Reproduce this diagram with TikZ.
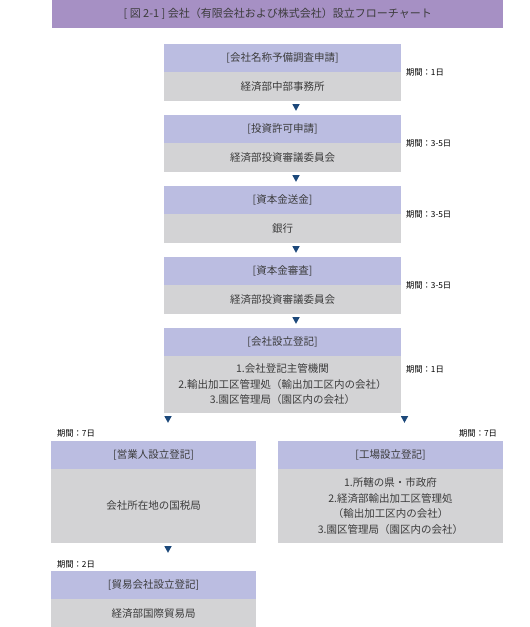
\documentclass[tikz,border=0pt]{standalone}
\usepackage{fontspec}
\setmainfont{Noto Sans CJK JP}
\usetikzlibrary{positioning}

\definecolor{titelpaars}{RGB}{166,144,196}
\definecolor{kopblauw}{RGB}{187,189,225}
\definecolor{romp}{RGB}{211,211,213}
\definecolor{pijlblauw}{RGB}{28,72,122}
\definecolor{tekst}{RGB}{60,60,60}

\tikzset{
    kop/.style={fill=kopblauw, inner sep=0pt, outer sep=0pt, text=tekst, minimum height=28pt,
        font=\fontsize{10.5}{12}\selectfont},
    romp/.style={fill=romp, inner sep=0pt, outer sep=0pt, text=tekst, align=center,
        font=\fontsize{10.5}{15.5}\selectfont},
    duur/.style={inner sep=0pt, outer sep=0pt, text=black, font=\fontsize{8.3}{10}\selectfont},
    pijl/.pic={\fill[pijlblauw] (-3.75,0) -- (3.75,0) -- (0,6.8) -- cycle;}
}

\begin{document}
\begin{tikzpicture}[x=1pt, y=-1pt]
    \useasboundingbox (0,0) rectangle (530,627);

    % Titelbalk
    \node[fill=titelpaars, text=tekst, minimum width=451pt, minimum height=28pt,
        inner sep=0pt, anchor=north west, font=\fontsize{11}{12}\selectfont]
        (titel) at (52,0) {[ 図 2-1 ] 会社（有限会社および株式会社）設立フローチャート};

    % Hoofdkolom van de stappen
    \node[kop, minimum width=237pt, anchor=north west] (k1) at (164,44) {[会社名称予備調査申請]};
    \node[romp, minimum width=237pt, minimum height=29pt, below=0pt of k1] (r1) {経済部中部事務所};

    \node[kop, minimum width=237pt, below=14pt of r1] (k2) {[投資許可申請]};
    \node[romp, minimum width=237pt, minimum height=29pt, below=0pt of k2] (r2) {経済部投資審議委員会};

    \node[kop, minimum width=237pt, below=14pt of r2] (k3) {[資本金送金]};
    \node[romp, minimum width=237pt, minimum height=29pt, below=0pt of k3] (r3) {銀行};

    \node[kop, minimum width=237pt, below=14pt of r3] (k4) {[資本金審査]};
    \node[romp, minimum width=237pt, minimum height=29pt, below=0pt of k4] (r4) {経済部投資審議委員会};

    \node[kop, minimum width=237pt, below=14pt of r4] (k5) {[会社設立登記]};
    \node[romp, minimum width=237pt, minimum height=57pt, below=0pt of k5] (r5)
        {1.会社登記主管機関\\2.輸出加工区管理処（輸出加工区内の会社）\\3.園区管理局（園区内の会社）};

    % Twee takken onderaan
    \node[kop, minimum width=205pt, anchor=north west] (k6) at (51,441) {[営業人設立登記]};
    \node[romp, minimum width=205pt, minimum height=74pt, below=0pt of k6] (r6) {会社所在地の国税局};

    \node[kop, minimum width=225pt, anchor=north west] (k7) at (278,441) {[工場設立登記]};
    \node[romp, minimum width=225pt, minimum height=74pt, below=0pt of k7] (r7)
        {1.所轄の県・市政府\\2.経済部輸出加工区管理処\\（輸出加工区内の会社）\\3.園区管理局（園区内の会社）};

    \node[kop, minimum width=205pt, below=28pt of r6] (k8) {[貿易会社設立登記]};
    \node[romp, minimum width=205pt, minimum height=29pt, below=0pt of k8] (r8) {経済部国際貿易局};

    % Duur van elke stap
    \node[duur, right=5pt of r1.north east] (d1) {期間：1日};
    \node[duur, right=5pt of r2.north east] (d2) {期間：3-5日};
    \node[duur, right=5pt of r3.north east] (d3) {期間：3-5日};
    \node[duur, right=5pt of r4.north east] (d4) {期間：3-5日};
    \node[duur, right=5pt of r5.north east, yshift=-13pt] (d5) {期間：1日};
    \node[duur, anchor=west] (d6) at (57,433) {期間：7日};
    \node[duur, anchor=east] (d7) at (497,433) {期間：7日};
    \node[duur, anchor=west] (d8) at (57,564) {期間：2日};

    % Pijltjes tussen de stappen
    \pic at ([xshift=13.5pt, yshift=-3pt]r1.south) {pijl};
    \pic at ([xshift=13.5pt, yshift=-3pt]r2.south) {pijl};
    \pic at ([xshift=13.5pt, yshift=-3pt]r3.south) {pijl};
    \pic at ([xshift=13.5pt, yshift=-3pt]r4.south) {pijl};
    \pic at ([xshift=-114.5pt, yshift=-3pt]r5.south) {pijl}; % naar links
    \pic at ([xshift=122pt, yshift=-3pt]r5.south) {pijl};    % naar rechts
    \pic at ([xshift=14.5pt, yshift=-3pt]r6.south) {pijl};

\end{tikzpicture}
\end{document}
